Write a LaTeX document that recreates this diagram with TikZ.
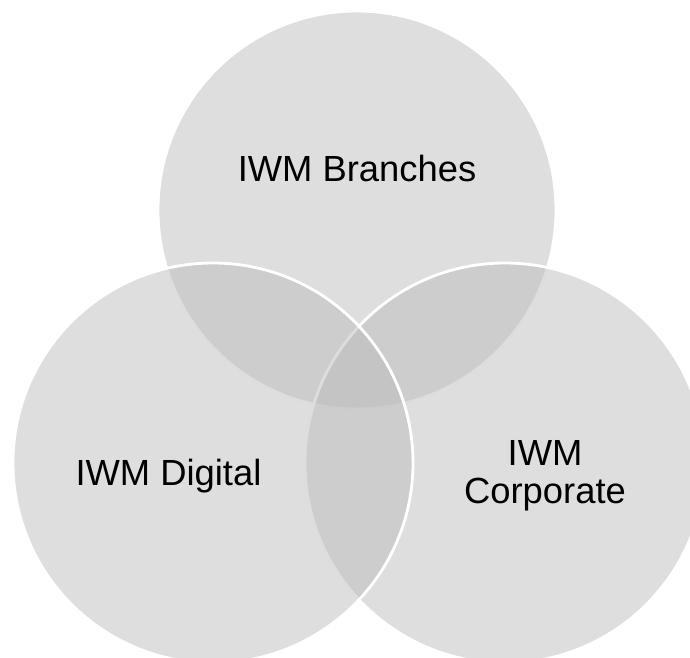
\documentclass[tikz,border=0pt]{standalone}
\usepackage{fontspec}
\setmainfont{Liberation Sans}
\usepackage{tikz}
\usetikzlibrary{positioning}
\definecolor{ringgray}{RGB}{187,187,187}

\begin{document}
\begin{tikzpicture}[x=0.02cm, y=-0.02cm,
    ring/.style={fill=ringgray, fill opacity=0.485, draw=white, line width=1.6pt},
    lbl/.style={font=\fontsize{20.7}{21.5}\selectfont, inner sep=0pt, align=center}]
    \useasboundingbox (0,0) rectangle (690,657);
    \clip (0,0) rectangle (690,657);

    \draw[ring] (357,210) circle [radius=199];
    \draw[ring] (505,463) circle [radius=200];
    \draw[ring] (213,463) circle [radius=200];

    \node[lbl, anchor=base] (branches) at (357,181) {IWM Branches};
    \node[lbl, anchor=base] (digital) at (168.5,485) {IWM Digital};
    \node[lbl, anchor=north] (corporate) at (545,440) {IWM\\Corporate};
\end{tikzpicture}
\end{document}
